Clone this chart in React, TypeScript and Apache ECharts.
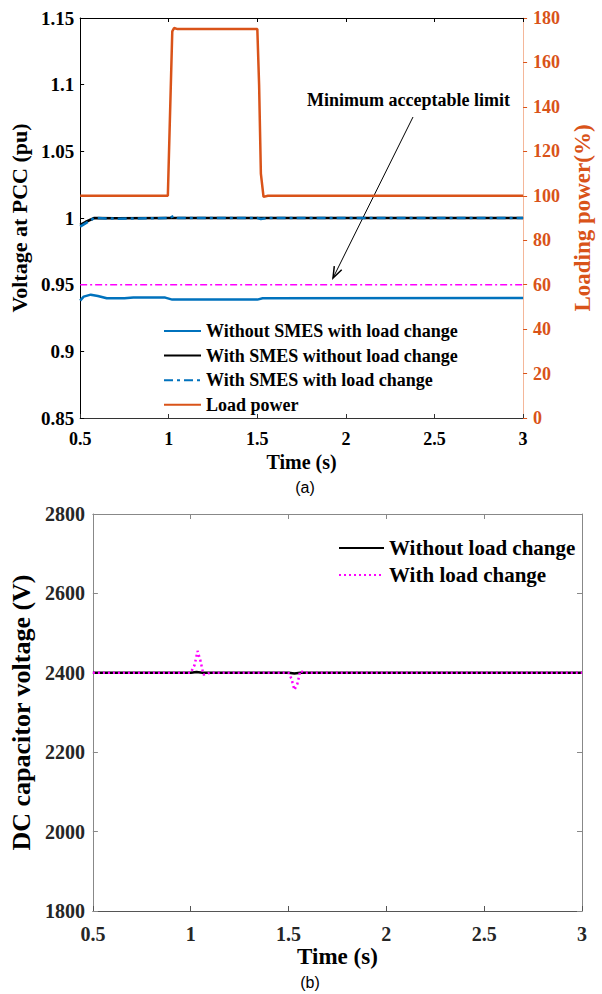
import React, { useEffect, useRef } from "react";
import * as echarts from "echarts";

// ---------- Data (a) ----------
const loadTime = [0.5, 0.995, 1.005, 1.02, 1.03, 1.05, 1.5, 1.51, 1.52, 1.535, 1.56, 3.0];
const loadPower = [100, 100, 130, 174, 175.5, 175, 175, 150, 110, 99.5, 100, 100];

const noSmesTime = [0.5, 0.52, 0.56, 0.6, 0.65, 0.75, 0.8, 0.98, 1.02, 1.5, 1.53, 3.0];
const noSmesV = [0.938, 0.941, 0.9425, 0.9415, 0.9398, 0.9398, 0.9403, 0.9403, 0.9388, 0.9388, 0.9398, 0.94];

const smesNoLoadTime = [0.5, 0.53, 0.58, 0.7, 1.0, 1.5, 3.0];
const smesNoLoadV = [0.9948, 0.997, 1.0, 0.9998, 1.0, 1.0, 1.0];

const smesLoadTime = [0.5, 0.53, 0.58, 0.7, 1.0, 1.03, 1.05, 1.5, 1.52, 1.56, 3.0];
const smesLoadV = [0.9935, 0.996, 1.0, 0.9995, 1.0, 1.0015, 1.0, 1.0, 0.9993, 1.0, 1.0];

const limitTime = [0.5, 3.0];
const limitV = [0.95, 0.95];

// ---------- Data (b) ----------
const dcNoLoadTime = [0.5, 1.0, 1.03, 1.06, 1.5, 1.53, 1.56, 3.0];
const dcNoLoadV = [2400, 2400, 2402, 2400, 2400, 2398, 2400, 2400];

const dcLoadTime = [0.5, 1.0, 1.02, 1.035, 1.05, 1.065, 1.08, 1.1, 1.5, 1.515, 1.53, 1.545, 1.56, 1.58, 3.0];
const dcLoadV = [2400, 2400, 2420, 2455, 2430, 2395, 2398, 2400, 2400, 2385, 2357, 2372, 2405, 2400, 2400];

const seriesNamesA = [
  "Without SMES with load change",
  "With SMES without load change",
  "With SMES with load change",
  "Load power",
];
const seriesNamesB = ["Without load change", "With load change"];

const zip = (xs: number[], ys: number[]) => xs.map((x, i) => [x, ys[i]]);

const SERIF = "Liberation Serif";
const BLUE = "#0072BD";
const ORANGE = "#D95319";
const MAGENTA = "#FF00FF";

export default function App() {
  const ref = useRef<HTMLDivElement>(null);
  useEffect(() => {
    if (!ref.current) return;
    const chart = echarts.init(ref.current, undefined, { renderer: "svg" });
    const lblA = { fontFamily: SERIF, fontWeight: "bold" as const, fontSize: 18, color: "#000" };
    const lblB = { fontFamily: SERIF, fontWeight: "bold" as const, fontSize: 20, color: "#262626" };
    const plain = (v: number) => String(parseFloat(v.toFixed(2)));
    const option: any = {
      animation: false,
      backgroundColor: "#fff",
      textStyle: { fontFamily: SERIF },
      grid: [
        { left: 77, top: 18, width: 456, height: 400 },
        { left: 91, top: 514, width: 491, height: 397 },
      ],
      legend: [
        {
          data: seriesNamesA,
          orient: "vertical",
          left: 158,
          top: 316,
          itemWidth: 37,
          itemHeight: 14,
          itemGap: 4.6,
          itemStyle: { opacity: 0 },
          textStyle: { fontFamily: SERIF, fontWeight: "bold", fontSize: 18, color: "#000", lineHeight: 20 },
        },
        {
          data: seriesNamesB,
          orient: "vertical",
          left: 333,
          top: 532,
          itemWidth: 45,
          itemHeight: 14,
          itemGap: 5,
          itemStyle: { opacity: 0 },
          textStyle: { fontFamily: SERIF, fontWeight: "bold", fontSize: 21, color: "#000", lineHeight: 22 },
        },
      ],
      xAxis: [
        {
          gridIndex: 0, type: "value", position: "bottom", min: 0.5, max: 3, interval: 0.5,
          name: "Time (s)", nameLocation: "middle", nameGap: 34,
          nameTextStyle: { fontFamily: SERIF, fontWeight: "bold", fontSize: 20, color: "#000" },
          axisLine: { lineStyle: { color: "#333", width: 1 } },
          axisTick: { inside: true, length: 4, lineStyle: { color: "#333" } },
          axisLabel: { ...lblA, margin: 12, formatter: plain },
          splitLine: { show: false },
        },
        {
          gridIndex: 0, type: "value", position: "top", min: 0.5, max: 3, interval: 0.5,
          axisLine: { lineStyle: { color: "#000", width: 1 } },
          axisTick: { inside: true, length: 4, lineStyle: { color: "#000" } },
          axisLabel: { show: false },
          splitLine: { show: false },
        },
        {
          gridIndex: 1, type: "value", position: "bottom", min: 0.5, max: 3, interval: 0.5,
          name: "Time (s)", nameLocation: "middle", nameGap: 34,
          nameTextStyle: { fontFamily: SERIF, fontWeight: "bold", fontSize: 23, color: "#000" },
          axisLine: { lineStyle: { color: "#555", width: 1 } },
          axisTick: { inside: true, length: 5, lineStyle: { color: "#555" } },
          axisLabel: { ...lblB, margin: 13, formatter: plain },
          splitLine: { show: false },
        },
        {
          gridIndex: 1, type: "value", position: "top", min: 0.5, max: 3, interval: 0.5,
          axisLine: { lineStyle: { color: "#888", width: 1 } },
          axisTick: { inside: true, length: 5, lineStyle: { color: "#888" } },
          axisLabel: { show: false },
          splitLine: { show: false },
        },
      ],
      yAxis: [
        {
          gridIndex: 0, type: "value", position: "left", min: 0.85, max: 1.15, interval: 0.05,
          name: "Voltage at PCC (pu)", nameLocation: "middle", nameGap: 40,
          nameTextStyle: { fontFamily: SERIF, fontWeight: "bold", fontSize: 22, color: "#000" },
          axisLine: { show: true, lineStyle: { color: "#000", width: 1 } },
          axisTick: { show: true, inside: true, length: 4, lineStyle: { color: "#000" } },
          axisLabel: { ...lblA, fontSize: 19, margin: 6, formatter: plain },
          splitLine: { show: false },
        },
        {
          gridIndex: 0, type: "value", position: "right", min: 0, max: 180, interval: 20,
          name: "Loading power(%)", nameLocation: "middle", nameGap: 43,
          nameTextStyle: { fontFamily: SERIF, fontWeight: "bold", fontSize: 23, color: ORANGE },
          axisLine: { show: true, lineStyle: { color: "#F4B79A", width: 1 } },
          axisTick: { show: true, inside: false, length: 4, lineStyle: { color: ORANGE } },
          axisLabel: { ...lblA, color: ORANGE, margin: 10, formatter: plain },
          splitLine: { show: false },
        },
        {
          gridIndex: 1, type: "value", position: "left", min: 1800, max: 2800, interval: 200,
          name: "DC capacitor voltage (V)", nameLocation: "middle", nameGap: 50,
          nameTextStyle: { fontFamily: SERIF, fontWeight: "bold", fontSize: 26, color: "#000" },
          axisLine: { show: true, lineStyle: { color: "#888", width: 1 } },
          axisTick: { show: true, inside: true, length: 5, lineStyle: { color: "#888" } },
          axisLabel: { ...lblB, margin: 8, formatter: plain },
          splitLine: { show: false },
        },
        {
          gridIndex: 1, type: "value", position: "right", min: 1800, max: 2800, interval: 200,
          axisLine: { show: true, lineStyle: { color: "#888", width: 1 } },
          axisTick: { show: true, inside: true, length: 5, lineStyle: { color: "#888" } },
          axisLabel: { show: false },
          splitLine: { show: false },
        },
      ],
      series: [
        {
          name: "Load power", type: "line", xAxisIndex: 0, yAxisIndex: 1, symbol: "none",
          data: zip(loadTime, loadPower), color: ORANGE,
          lineStyle: { color: ORANGE, width: 2.5 }, z: 3,
        },
        {
          name: "Minimum acceptable limit", type: "line", xAxisIndex: 0, yAxisIndex: 0, symbol: "none",
          data: zip(limitTime, limitV), color: MAGENTA,
          lineStyle: { color: MAGENTA, width: 1.5, type: [7, 3, 2, 3] }, z: 3,
        },
        {
          name: seriesNamesA[0], type: "line", xAxisIndex: 0, yAxisIndex: 0, symbol: "none",
          data: zip(noSmesTime, noSmesV), color: BLUE,
          lineStyle: { color: BLUE, width: 2.5 }, z: 3,
        },
        {
          name: seriesNamesA[1], type: "line", xAxisIndex: 0, yAxisIndex: 0, symbol: "none",
          data: zip(smesNoLoadTime, smesNoLoadV), color: "#000",
          lineStyle: { color: "#000", width: 2.5 }, z: 4,
        },
        {
          name: seriesNamesA[2], type: "line", xAxisIndex: 0, yAxisIndex: 0, symbol: "none",
          data: zip(smesLoadTime, smesLoadV), color: BLUE,
          lineStyle: { color: BLUE, width: 2.5, type: [9, 4, 3, 4] }, z: 5,
        },
        {
          name: seriesNamesB[0], type: "line", xAxisIndex: 2, yAxisIndex: 2, symbol: "none",
          data: zip(dcNoLoadTime, dcNoLoadV), color: "#000",
          lineStyle: { color: "#000", width: 2.5 }, z: 3,
        },
        {
          name: seriesNamesB[1], type: "line", xAxisIndex: 2, yAxisIndex: 2, symbol: "none",
          data: zip(dcLoadTime, dcLoadV), color: MAGENTA,
          lineStyle: { color: MAGENTA, width: 2.5, type: [2, 3] }, z: 4,
        },
      ],
      graphic: [
        {
          type: "text", left: 307, top: 91,
          style: { text: "Minimum acceptable limit", fontFamily: SERIF, fontWeight: "bold", fontSize: 18, fill: "#000" },
        },
        {
          type: "line", shape: { x1: 413, y1: 117, x2: 333, y2: 278 },
          style: { stroke: "#000", lineWidth: 1 },
        },
        {
          type: "polyline", shape: { points: [[341.7, 269.7], [333, 278], [334.3, 266.1]] },
          style: { stroke: "#000", lineWidth: 1.5, fill: "none" },
        },
        {
          type: "text", x: 305, y: 487,
          style: { text: "(a)", fontFamily: "Liberation Sans", fontSize: 16, fill: "#000", align: "center", verticalAlign: "middle" },
        },
        {
          type: "text", x: 310, y: 982,
          style: { text: "(b)", fontFamily: "Liberation Sans", fontSize: 16, fill: "#000", align: "center", verticalAlign: "middle" },
        },
      ],
    };
    chart.setOption(option);
    return () => chart.dispose();
  }, []);
  return <div ref={ref} style={{ position: "absolute", left: 0, top: 0, width: 602, height: 994 }} />;
}
